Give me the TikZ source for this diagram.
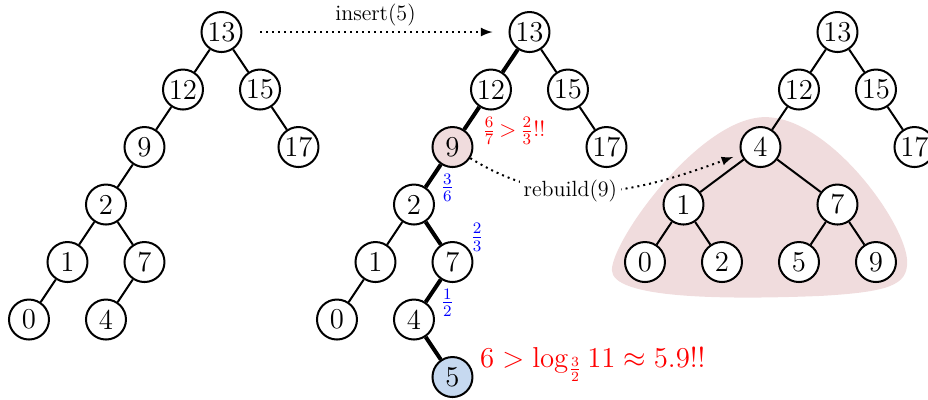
\documentclass[tikz,border=0pt]{standalone}
\usepackage{amsmath}
\definecolor{rebuildpink}{RGB}{240,220,221}
\definecolor{newblue}{RGB}{198,217,240}

\begin{document}
\begin{tikzpicture}[
    x=19.25pt, y=28.75pt,
    treenode/.style={draw, circle, line width=1pt, fill=white, minimum size=20pt, inner sep=0pt, font=\Large},
    link/.style={line width=1pt},
    spine/.style={line width=2pt},
    ratio/.style={text=blue, font=\large},
    opmsg/.style={dotted, line width=1pt, ->, >=latex},
    oplabel/.style={font=\fontsize{11}{13}\selectfont}
]
\useasboundingbox (-0.753,0.557) rectangle (23.351,-6.383);

% Rebuilt subtree background
\fill[rebuildpink] (15.14,-4.14) .. controls (15.14,-3.62) and (17.43,-1.48) .. (19.12,-1.48)
    .. controls (20.81,-1.48) and (22.81,-3.36) .. (22.81,-4.00)
    .. controls (22.81,-4.40) and (22.36,-4.52) .. (20.55,-4.59)
    .. controls (17.95,-4.66) and (15.14,-4.63) .. (15.14,-4.14) -- cycle;

% Before insertion
\node[treenode] (a13) at (5, 0) {13};
\node[treenode] (a12) at (4, -1) {12};
\node[treenode] (a15) at (6, -1) {15};
\node[treenode] (a9) at (3, -2) {9};
\node[treenode] (a17) at (7, -2) {17};
\node[treenode] (a2) at (2, -3) {2};
\node[treenode] (a1) at (1, -4) {1};
\node[treenode] (a7) at (3, -4) {7};
\node[treenode] (a0) at (0, -5) {0};
\node[treenode] (a4) at (2, -5) {4};

\draw[link] (a13) -- (a12);
\draw[link] (a13) -- (a15);
\draw[link] (a12) -- (a9);
\draw[link] (a15) -- (a17);
\draw[link] (a9) -- (a2);
\draw[link] (a2) -- (a1);
\draw[link] (a2) -- (a7);
\draw[link] (a1) -- (a0);
\draw[link] (a7) -- (a4);

% After insertion
\node[treenode] (b13) at (13, 0) {13};
\node[treenode] (b12) at (12, -1) {12};
\node[treenode] (b15) at (14, -1) {15};
\node[treenode, fill=rebuildpink] (b9) at (11, -2) {9};
\node[treenode] (b17) at (15, -2) {17};
\node[treenode] (b2) at (10, -3) {2};
\node[treenode] (b1) at (9, -4) {1};
\node[treenode] (b7) at (11, -4) {7};
\node[treenode] (b0) at (8, -5) {0};
\node[treenode] (b4) at (10, -5) {4};
\node[treenode, fill=newblue] (b5) at (11, -6) {5};

\draw[spine] (b13) -- (b12);
\draw[link] (b13) -- (b15);
\draw[spine] (b12) -- (b9);
\draw[link] (b15) -- (b17);
\draw[spine] (b9) -- (b2);
\draw[link] (b2) -- (b1);
\draw[spine] (b2) -- (b7);
\draw[link] (b1) -- (b0);
\draw[spine] (b7) -- (b4);
\draw[spine] (b4) -- (b5);

% After rebuild
\node[treenode] (c13) at (21, 0) {13};
\node[treenode] (c12) at (20, -1) {12};
\node[treenode] (c15) at (22, -1) {15};
\node[treenode] (c4) at (19, -2) {4};
\node[treenode] (c17) at (23, -2) {17};
\node[treenode] (c1) at (17, -3) {1};
\node[treenode] (c7) at (21, -3) {7};
\node[treenode] (c0) at (16, -4) {0};
\node[treenode] (c2) at (18, -4) {2};
\node[treenode] (c5) at (20, -4) {5};
\node[treenode] (c9) at (22, -4) {9};

\draw[link] (c13) -- (c12);
\draw[link] (c13) -- (c15);
\draw[link] (c12) -- (c4);
\draw[link] (c15) -- (c17);
\draw[link] (c4) -- (c1);
\draw[link] (c4) -- (c7);
\draw[link] (c1) -- (c0);
\draw[link] (c1) -- (c2);
\draw[link] (c7) -- (c5);
\draw[link] (c7) -- (c9);

% Operations
\draw[opmsg, shorten <=9pt, shorten >=8pt] (a13) -- node[oplabel, above=-1pt] {insert(5)} (b13);
\draw[opmsg, shorten >=4pt] (b9) to[out=-32, in=200] node[oplabel, fill=white, inner sep=2pt, pos=0.38] {rebuild(9)} (c4);

% Balance labels
\node[text=red, font=\fontsize{11}{13}\selectfont, anchor=west, inner sep=0pt] (toolong) at (11.77, -1.72) {$\frac{6}{7}\,{>}\,\frac{2}{3}$!!};
\node[ratio] (r2) at (10.87, -2.71) {$\frac{3}{6}$};
\node[ratio] (r7) at (11.64, -3.57) {$\frac{2}{3}$};
\node[ratio] (r4) at (10.87, -4.71) {$\frac{1}{2}$};
\node[text=red, font=\Large, anchor=base west, inner sep=0pt] (depth) at (11.71, -5.84) {$6 > \log_{\frac{3}{2}} 11 \approx 5.9$!!};

\end{tikzpicture}
\end{document}
